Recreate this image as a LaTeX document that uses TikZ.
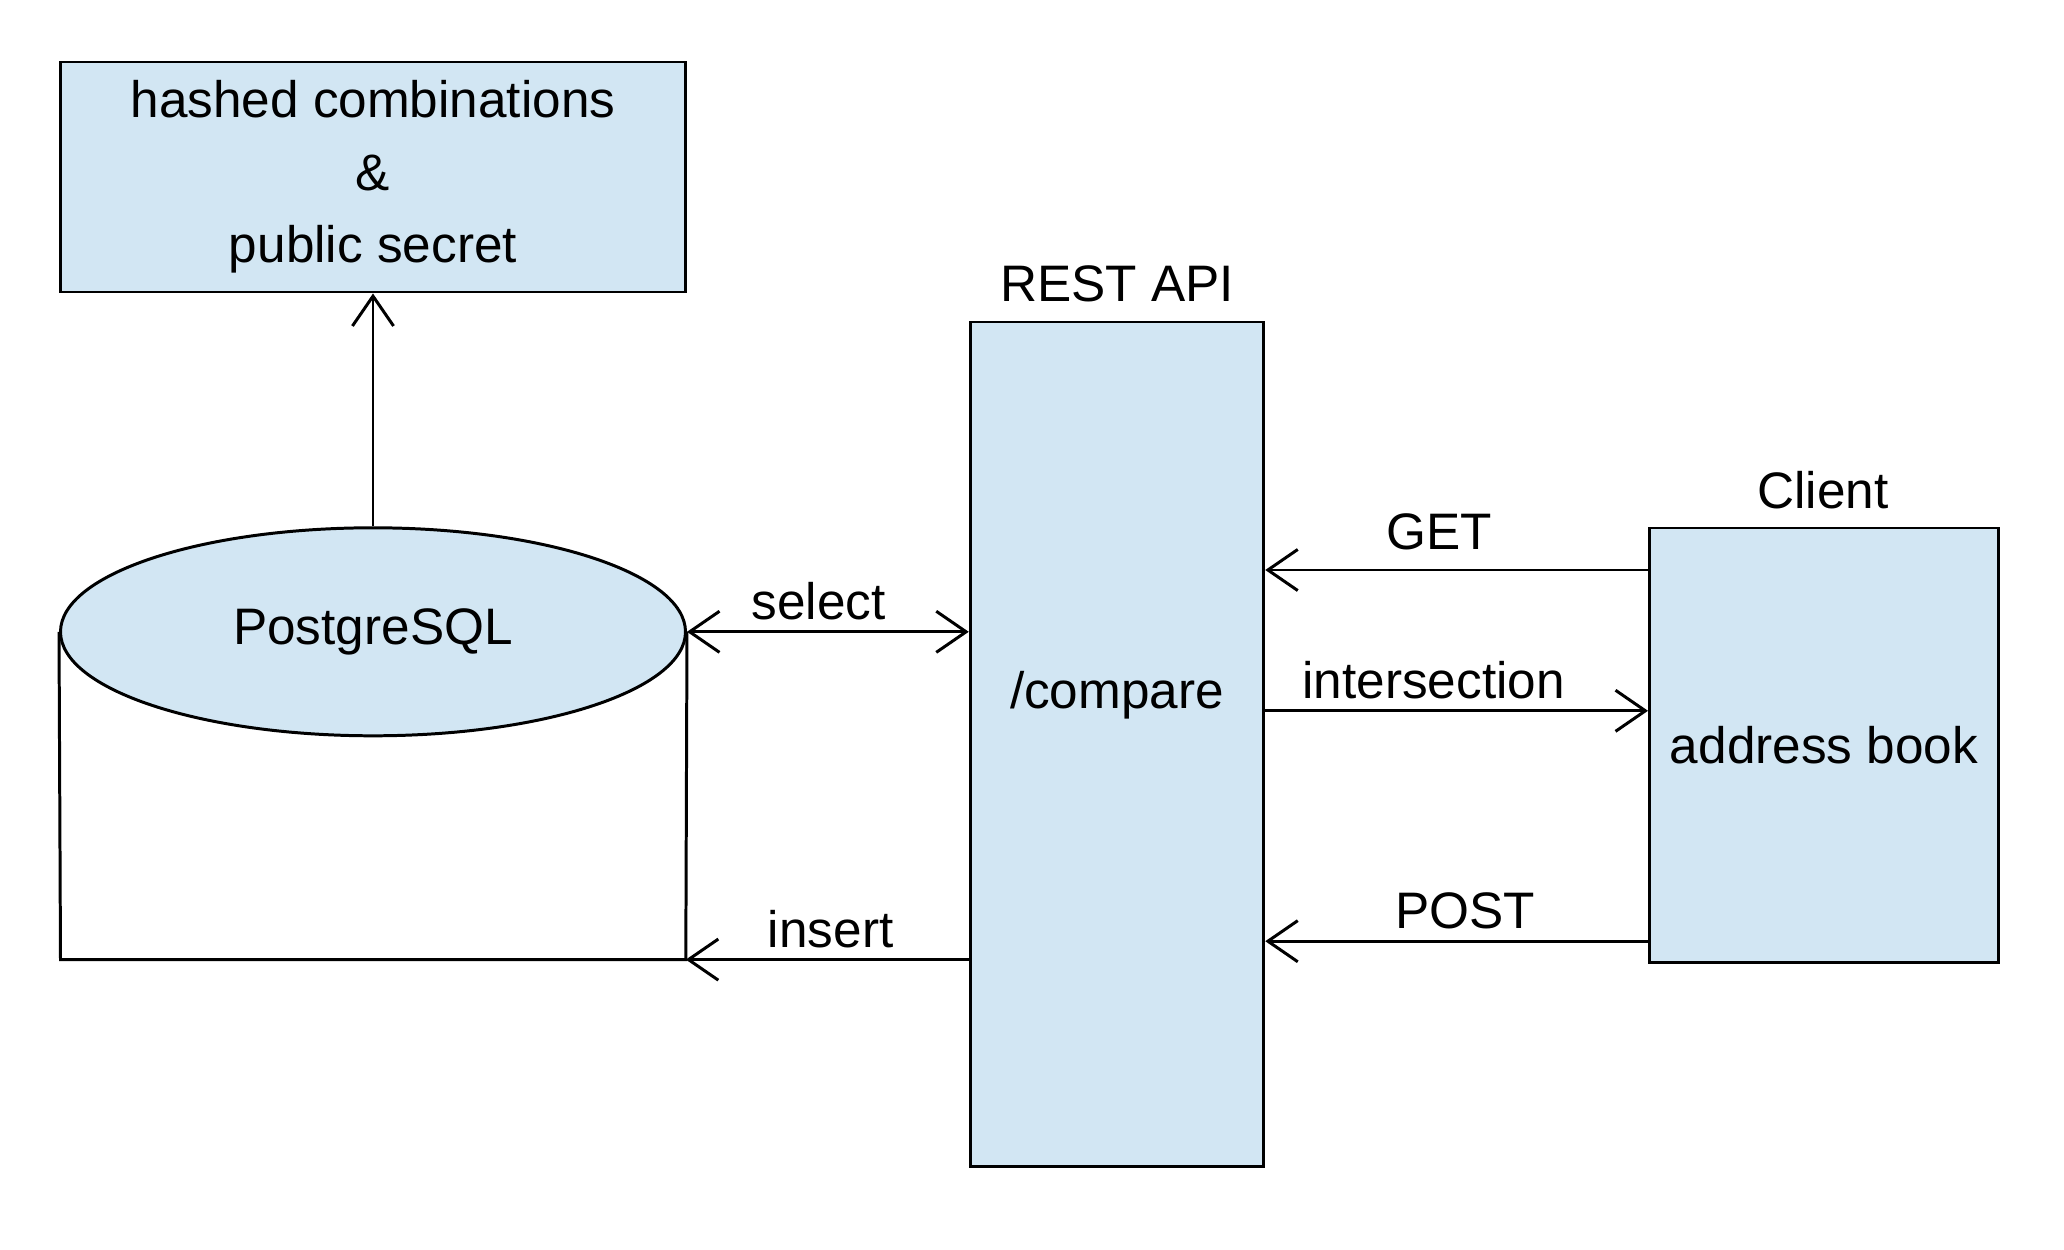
\documentclass[tikz,border=0pt]{standalone}
\usepackage{fontspec}
\setmainfont{Liberation Sans}
\usepackage{xcolor}
\usepackage{tikz}
\usetikzlibrary{positioning,calc,shapes.geometric,arrows.meta}

\definecolor{boxblue}{RGB}{210,230,243}

\begin{document}
\begin{tikzpicture}[
					font=\fontsize{14.6}{20.6}\selectfont,
					line width=0.85pt,
					% Style cho các hộp
					box/.style={draw, fill=boxblue, inner sep=0pt, align=center},
					% Style cho đỉnh cơ sở dữ liệu
					dbtop/.style={draw, fill=boxblue, ellipse, inner sep=0pt},
					% Style cho mũi tên
					arr/.style={-{Straight Barb[length=8.5pt, width=11.7pt]}},
					% Style cho nhãn trên mũi tên
					lbl/.style={above, inner sep=3pt}
					]
					\useasboundingbox (0,0) rectangle (20.64,12.49);
					
					% ================= Hộp dữ liệu phía trên =================
					\node[box, minimum width=6.25cm, minimum height=2.30cm] (store) at (3.73, 10.72)
						{hashed combinations\\\&\\public secret};
					
					% ================= PostgreSQL (hình trụ) =================
					\node[dbtop, minimum width=6.25cm, minimum height=2.08cm] (pg) at (3.73, 6.172) {PostgreSQL};
					\coordinate (pgbl) at (0.605, 2.894);
					\coordinate (pgbr) at (6.858, 2.894);
					\draw (pg.west) -- (pgbl) -- (pgbr) -- (pg.east);
					
					\draw[arr] (pg.north) -- (store.south);
					
					% ================= REST API =================
					\node[box, minimum width=2.935cm, minimum height=8.44cm] (rest) at (11.17, 5.05) {};
					\node (restname) at (11.17, 9.647) {REST API};
					\node (compare) at (11.17, 5.54) {/compare};
					
					% ================= Client =================
					\node[box, minimum width=3.49cm, minimum height=4.34cm] (client) at (18.24, 5.04) {address book};
					\node (clientname) at (18.23, 7.593) {Client};
					
					% ================= Các mũi tên =================
					\draw[{Straight Barb[length=8.5pt, width=11.7pt]}-{Straight Barb[length=8.5pt, width=11.7pt]}]
						(pg.east) -- (rest.west |- pg.east) node[lbl, pos=0.467] {select};
					\draw[arr] (rest.west |- pgbr) -- (pgbr) node[lbl, pos=0.488] {insert};
					
					\draw[arr] (client.west |- 0,6.79) -- (rest.east |- 0,6.79) node[lbl, pos=0.545, yshift=0.08cm] {GET};
					\draw[arr] (rest.east |- 0,5.382) -- (client.west |- 0,5.382) node[lbl, pos=0.44] {intersection};
					\draw[arr] (client.west |- 0,3.078) -- (rest.east |- 0,3.078) node[lbl, pos=0.478] {POST};
					
\end{tikzpicture}
\end{document}
